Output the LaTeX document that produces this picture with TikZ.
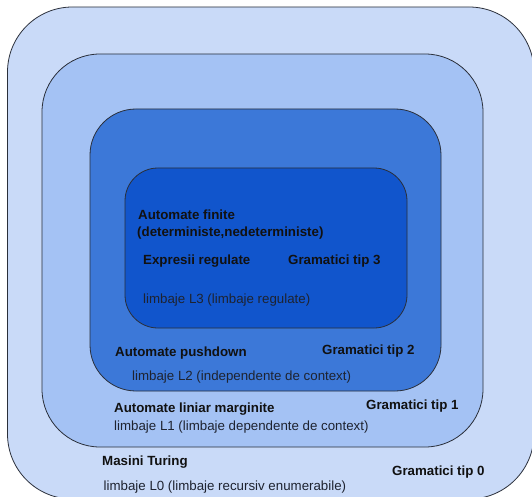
\documentclass[tikz,border=0pt]{standalone}
\usepackage{fontspec}
\setmainfont{Liberation Sans}
\definecolor{blueA}{HTML}{C9DAF8}
\definecolor{blueB}{HTML}{A4C2F4}
\definecolor{blueC}{HTML}{3C78D8}
\definecolor{blueD}{HTML}{1155CC}
\definecolor{edge}{HTML}{2A2F3A}
\definecolor{txt}{HTML}{111111}
\definecolor{txtn}{HTML}{1E2330}
\tikzset{
  layer/.style={draw=edge, line width=0.8pt},
  boldlbl/.style={anchor=base west, inner sep=0pt, text=txt, font=\fontsize{13.3}{16}\selectfont\bfseries},
  normlbl/.style={anchor=base west, inner sep=0pt, text=txtn, font=\fontsize{13.3}{16}\selectfont},
}
\begin{document}
\begin{tikzpicture}[x=1pt,y=-1pt]
\useasboundingbox (0,0) rectangle (532,497);
\clip (0,0) rectangle (532,497);
\fill[white] (0,0) rectangle (532,497);
% nested regions
\draw[layer, fill=blueA, rounded corners=65pt] (7.5,7) rectangle (534,499);
\draw[layer, fill=blueB, rounded corners=58pt] (42,54) rectangle (483,447);
\draw[layer, fill=blueC, rounded corners=46pt] (90,109) rectangle (441,391);
\draw[layer, fill=blueD, rounded corners=33pt] (125,168) rectangle (407,328);
% texts, innermost
\node[boldlbl] (af) at (138,219) {Automate finite};
\node[boldlbl] (afd) at (137,236) {(deterministe,nedeterministe)};
\node[boldlbl] (er) at (143,264) {Expresii regulate};
\node[boldlbl] (g3) at (288,264) {Gramatici tip 3};
\node[normlbl] (l3) at (143,303) {limbaje L3 (limbaje regulate)};
% level 2
\node[boldlbl] (ap) at (115,356) {Automate pushdown};
\node[boldlbl] (g2) at (322,354) {Gramatici tip 2};
\node[normlbl] (l2) at (132,380) {limbaje L2 (independente de context)};
% level 1
\node[boldlbl] (alm) at (114,412) {Automate liniar marginite};
\node[boldlbl] (g1) at (366,409) {Gramatici tip 1};
\node[normlbl] (l1) at (114,430) {limbaje L1 (limbaje dependente de context)};
% level 0
\node[boldlbl] (mt) at (102,465) {Masini Turing};
\node[boldlbl] (g0) at (392,475) {Gramatici tip 0};
\node[normlbl] (l0) at (103.5,490.5) {limbaje L0 (limbaje recursiv enumerabile)};
\end{tikzpicture}
\end{document}
